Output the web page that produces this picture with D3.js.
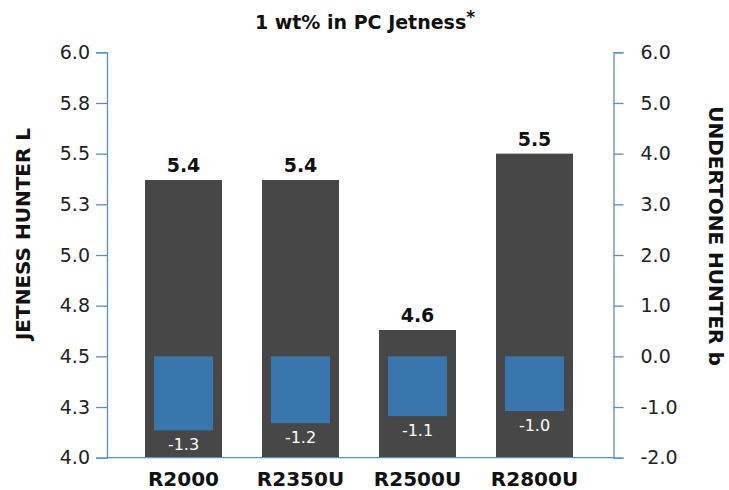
<!DOCTYPE html>
<html>
<head>
<meta charset="utf-8">
<script src="https://cdn.jsdelivr.net/npm/d3@7"></script>
<style>
  body { margin: 0; background: #fff; }
  text { font-family: "DejaVu Sans", sans-serif; }
</style>
</head>
<body>
<div id="chart"></div>
<script>
// data
var grades = ["R2000", "R2350U", "R2500U", "R2800U"];
var jetness = [5.37, 5.37, 4.63, 5.50];            // left axis, dark bars
var undertone = [-1.46, -1.32, -1.18, -1.08];      // right axis, blue bars (as drawn)
var undertoneLabels = ["-1.3", "-1.2", "-1.1", "-1.0"];
var leftTicks = [4.0, 4.25, 4.5, 4.75, 5.0, 5.25, 5.5, 5.75, 6.0];
var rightTicks = [-2, -1, 0, 1, 2, 3, 4, 5, 6];

var width = 729, height = 490;
var plotTop = 52.3, plotBottom = 457.7, plotLeft = 107, plotRight = 613.5;

var svg = d3.select("#chart").append("svg")
    .attr("width", width)
    .attr("height", height);

var yL = d3.scaleLinear().domain([4, 6]).range([plotBottom, plotTop]);
var yR = d3.scaleLinear().domain([-2, 6]).range([plotBottom, plotTop]);
var x = d3.scalePoint().domain(grades).range([183.5, 534.5]);

var axisColor = "#5a8fc6";
var fmt = d => (+d).toFixed(1);   // plain hyphen for negatives, like the reference

// dark bars
svg.selectAll(".jet")
    .data(grades)
    .enter().append("rect")
    .attr("class", "jet")
    .attr("x", d => x(d) - 38.5)
    .attr("width", 77)
    .attr("y", (d, i) => yL(jetness[i]))
    .attr("height", (d, i) => yL(4) - yL(jetness[i]))
    .attr("fill", "#474747");

svg.selectAll(".jetLabel")
    .data(grades)
    .enter().append("text")
    .attr("x", d => x(d))
    .attr("y", (d, i) => yL(jetness[i]) - 8)
    .attr("text-anchor", "middle")
    .attr("font-size", 19)
    .attr("font-weight", "bold")
    .attr("fill", "#111")
    .text((d, i) => fmt(jetness[i]));

// blue bars
svg.selectAll(".und")
    .data(grades)
    .enter().append("rect")
    .attr("class", "und")
    .attr("x", d => x(d) - 29.5)
    .attr("width", 59)
    .attr("y", yR(0))
    .attr("height", (d, i) => yR(undertone[i]) - yR(0))
    .attr("fill", "#3a76ae");

svg.selectAll(".undLabel")
    .data(grades)
    .enter().append("text")
    .attr("x", d => x(d))
    .attr("y", (d, i) => yR(undertone[i]) + 20)
    .attr("text-anchor", "middle")
    .attr("font-size", 16)
    .attr("fill", "#fff")
    .text((d, i) => undertoneLabels[i]);

// axes
var gL = svg.append("g")
    .attr("transform", "translate(" + plotLeft + ",0)")
    .call(d3.axisLeft(yL).tickValues(leftTicks).tickFormat(fmt).tickSize(11).tickPadding(6));
var gR = svg.append("g")
    .attr("transform", "translate(" + plotRight + ",0)")
    .call(d3.axisRight(yR).tickValues(rightTicks).tickFormat(fmt).tickSize(10).tickPadding(17));

[gL, gR].forEach(g => {
    g.select(".domain").attr("stroke", axisColor).attr("stroke-width", 1.3);
    g.selectAll(".tick line").attr("stroke", axisColor).attr("stroke-width", 1.3);
    g.selectAll(".tick text")
        .attr("font-size", 19)
        .attr("fill", "#222")
        .attr("font-family", "DejaVu Sans, sans-serif");
});

svg.append("line")
    .attr("x1", plotLeft).attr("x2", plotRight)
    .attr("y1", plotBottom).attr("y2", plotBottom)
    .attr("stroke", axisColor)
    .attr("stroke-width", 1.3);

// category labels
svg.selectAll(".cat")
    .data(grades)
    .enter().append("text")
    .attr("x", d => x(d))
    .attr("y", 486)
    .attr("text-anchor", "middle")
    .attr("font-size", 20)
    .attr("font-weight", "bold")
    .attr("fill", "#111")
    .text(d => d);

// axis titles
svg.append("text")
    .attr("transform", "translate(30,234) rotate(-90)")
    .attr("text-anchor", "middle")
    .attr("font-size", 20)
    .attr("font-weight", "bold")
    .attr("fill", "#111")
    .text("JETNESS HUNTER L");

svg.append("text")
    .attr("transform", "translate(709,236) rotate(90)")
    .attr("text-anchor", "middle")
    .attr("font-size", 20)
    .attr("font-weight", "bold")
    .attr("fill", "#111")
    .text("UNDERTONE HUNTER b");

// title
var title = svg.append("text")
    .attr("x", 365)
    .attr("y", 29)
    .attr("text-anchor", "middle")
    .attr("font-size", 19)
    .attr("font-weight", "bold")
    .attr("fill", "#111");
title.append("tspan").text("1 wt% in PC Jetness");
title.append("tspan").attr("dy", -6).attr("font-size", 17).text("*");
</script>
</body>
</html>
